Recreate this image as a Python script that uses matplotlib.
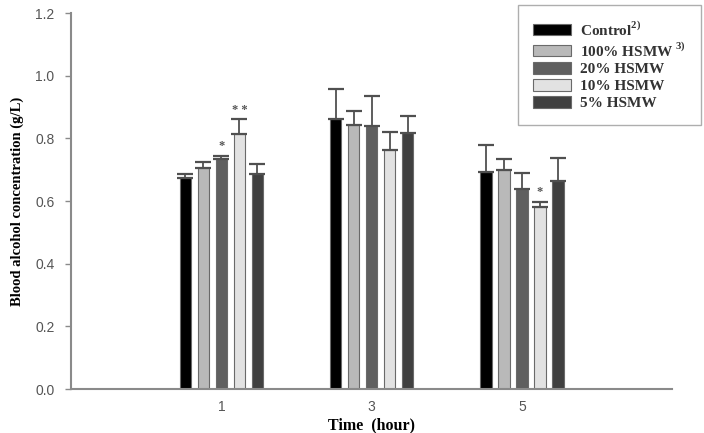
import matplotlib
matplotlib.use("Agg")
import matplotlib.pyplot as plt
from matplotlib.patches import Patch
import numpy as np

plt.rcParams['mathtext.fontset'] = 'custom'
plt.rcParams['mathtext.rm'] = 'Liberation Serif:bold'
plt.rcParams['mathtext.bf'] = 'Liberation Serif:bold'

times = [1, 3, 5]
time_labels = ["1", "3", "5"]
groups = [r"Control$^{2)}$", r"100% HSMW$^{\ 3)}$", "20% HSMW", "10% HSMW", "5% HSMW"]
colors = ["#000000", "#b9b9b9", "#5f5f5f", "#e2e2e2", "#404040"]

control = [0.673, 0.861, 0.694]
hsmw100 = [0.705, 0.844, 0.700]
hsmw20 = [0.734, 0.839, 0.638]
hsmw10 = [0.815, 0.763, 0.580]
hsmw5 = [0.685, 0.818, 0.664]

err_control = [0.012, 0.096, 0.086]
err_100 = [0.021, 0.043, 0.034]
err_20 = [0.011, 0.096, 0.052]
err_10 = [0.046, 0.058, 0.018]
err_5 = [0.032, 0.055, 0.074]

values = [control, hsmw100, hsmw20, hsmw10, hsmw5]
errors = [err_control, err_100, err_20, err_10, err_5]

# significance marks: (group index, time index, text)
marks = [(2, 0, "*"), (3, 0, "* *"), (3, 2, "*")]

fig = plt.figure(figsize=(7.04, 4.33), dpi=100)
ax = fig.add_axes([0.101, 0.1016, 0.854, 0.868])

width = 0.15
pitch = 0.24
x = np.array(times, dtype=float)
for i, (vals, errs, c) in enumerate(zip(values, errors, colors)):
    pos = x + (i - 2) * pitch
    ax.bar(pos, vals, width=width, color=c, edgecolor="#6a6a6a", linewidth=0.8, zorder=2)
    ax.errorbar(pos, vals, yerr=[np.zeros(len(vals)), errs], fmt="none",
                ecolor="#505050", elinewidth=1.3, capsize=6, capthick=1.6, zorder=3)

for gi, ti, txt in marks:
    xp = times[ti] + (gi - 2) * pitch
    yp = values[gi][ti] + errors[gi][ti] + 0.012
    ax.text(xp, yp, txt, ha="center", va="bottom", fontsize=9,
            family="Liberation Serif", fontweight="bold", color="#555555")

ax.set_xlim(-1, 7)
ax.set_ylim(0, 1.2)
ax.set_xticks(times)
ax.set_xticklabels(time_labels)
ax.set_yticks(np.arange(0, 1.21, 0.2))
ax.set_yticklabels([f"{v:.1f}" for v in np.arange(0, 1.21, 0.2)])

for s in ["top", "right"]:
    ax.spines[s].set_visible(False)
for s in ["left", "bottom"]:
    ax.spines[s].set_color("#8a8a8a")
    ax.spines[s].set_linewidth(1.5)

ax.tick_params(axis="y", direction="out", length=4, color="#8a8a8a", width=1,
               labelsize=10, labelcolor="#555555", pad=8)
ax.tick_params(axis="x", length=0, labelsize=10, labelcolor="#555555", pad=8)
for lab in ax.get_xticklabels() + ax.get_yticklabels():
    lab.set_family("Liberation Sans")

ax.set_ylabel("Blood alcohol concentration (g/L)", family="Liberation Serif",
              fontweight="bold", fontsize=10.5, labelpad=8)
ax.set_xlabel("Time  (hour)", family="Liberation Serif", fontweight="bold",
              fontsize=11.5, labelpad=2)

handles = [Patch(facecolor=c, edgecolor="#6a6a6a", linewidth=0.8) for c in colors]
leg = ax.legend(handles, groups, loc="upper right", bbox_to_anchor=(1.047, 1.021),
                frameon=True, fancybox=False, edgecolor="#9a9a9a",
                prop={"family": "Liberation Serif", "weight": "bold", "size": 11},
                handlelength=2.5, handleheight=0.8, handletextpad=0.6,
                labelspacing=0.2, borderpad=0.95, borderaxespad=0.0)
leg.get_frame().set_linewidth(1.0)
for t in leg.get_texts():
    t.set_color("#333333")

fig.savefig("out.png", dpi=100)
